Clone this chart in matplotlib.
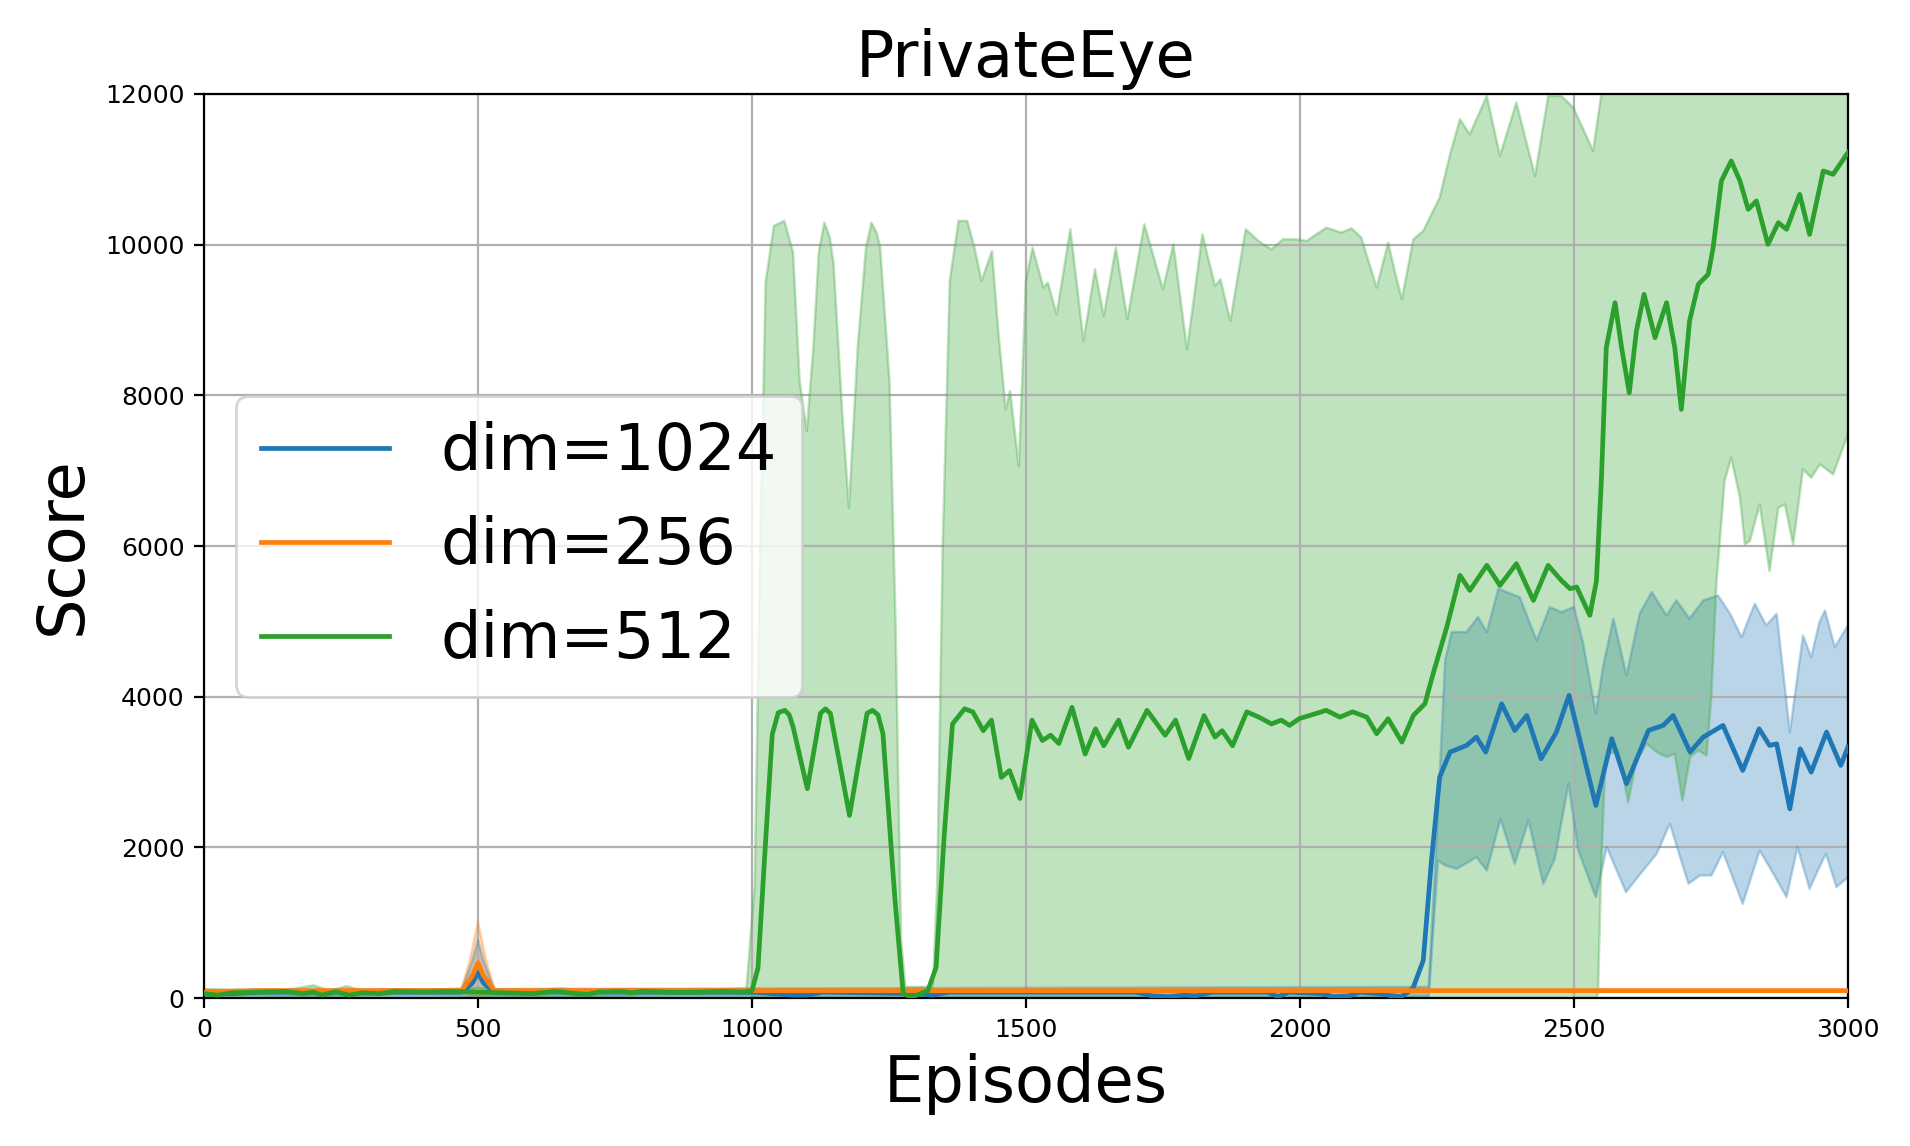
import numpy as np
import matplotlib.pyplot as plt

# dim=512 (green)
g_x = [0, 25, 50, 100, 150, 180, 200, 215, 240, 265, 290, 320, 350, 400, 450, 500, 550, 600, 640, 680,
       700, 720, 760, 780, 800, 850, 900, 950, 985, 1000, 1011, 1022, 1037, 1048, 1060, 1068, 1075, 1101,
       1125, 1134, 1143, 1178, 1210, 1220, 1230, 1239, 1261, 1276, 1291, 1321, 1336, 1351, 1366, 1388,
       1403, 1422, 1437, 1455, 1470, 1489,
       1511, 1530, 1545, 1560, 1584, 1608, 1627, 1642, 1669, 1687, 1721, 1754, 1773, 1797, 1825, 1845,
       1858, 1877, 1903, 1925, 1948, 1966, 1981, 1999, 2048, 2073, 2096, 2122, 2140, 2161, 2186, 2207,
       2228, 2243, 2268, 2292, 2310, 2341, 2365, 2395, 2426, 2453, 2477, 2493, 2505, 2529, 2541, 2550,
       2559, 2575, 2587, 2601, 2614, 2628, 2648, 2669, 2684, 2696, 2711, 2727, 2745, 2754, 2769, 2787,
       2803, 2818, 2833, 2854, 2873, 2888, 2912, 2930, 2955, 2973, 3000]
g_mean = [60, 40, 70, 80, 90, 60, 80, 40, 85, 40, 70, 60, 90, 80, 90, 80, 70, 60, 90, 60,
          50, 80, 90, 70, 90, 80, 80, 90, 80, 100, 400, 1740, 3500, 3790, 3820, 3760, 3600, 2780,
          3780, 3840, 3780, 2425, 3780, 3820, 3760, 3510, 1300, 60, 10, 100, 410, 2180, 3640, 3840,
          3800, 3550, 3690, 2930, 3020, 2650,
          3690, 3420, 3490, 3380, 3860, 3240, 3575, 3350, 3690, 3330, 3820, 3490, 3690, 3180, 3750, 3465,
          3550, 3350, 3800, 3730, 3640, 3690, 3620, 3710, 3820, 3730, 3800, 3730, 3510, 3708, 3398, 3752,
          3907, 4306, 4925, 5611, 5412, 5744, 5478, 5766, 5279, 5744, 5544, 5434, 5456, 5080, 5535, 6863,
          8633, 9230, 8633, 8035, 8854, 9341, 8766, 9230, 8633, 7814, 8987, 9474, 9607, 9960, 10845, 11111,
          10845, 10469, 10580, 10004, 10292, 10204, 10668, 10137, 10978, 10934, 11222]

g_up_x = [0, 50, 100, 150, 200, 230, 260, 290, 350, 400, 450, 500, 550, 600, 650, 700, 750, 800, 850,
          900, 950, 990, 1005, 1015, 1025, 1040, 1059, 1075, 1087, 1100, 1112, 1122, 1132, 1142, 1149,
          1165, 1177, 1193, 1208, 1218, 1228, 1234, 1251, 1262, 1272, 1280, 1330, 1338, 1348, 1361, 1377,
          1393, 1406, 1419, 1438,
          1450, 1463, 1471, 1487, 1500, 1512, 1532, 1540, 1556, 1581, 1605, 1626, 1642, 1664, 1685, 1716,
          1750, 1769, 1794, 1822, 1845, 1855, 1873, 1901, 1921, 1933, 1948, 1969, 1994, 2012, 2048, 2076,
          2094, 2112, 2140, 2161, 2173, 2186, 2207, 2225, 2255, 2274, 2292, 2310, 2341, 2365, 2395, 2429,
          2453, 2477, 2499, 2535, 2550, 2565, 3000]
g_up = [120, 110, 120, 110, 170, 100, 160, 100, 120, 110, 120, 140, 110, 110, 130, 100, 120, 120, 110,
        120, 120, 130, 1500, 6000, 9500, 10250, 10315, 9900, 8190, 7527, 8633, 9900, 10292, 10100, 9740,
        7748, 6509, 8633, 9950, 10292, 10150, 9960, 8190, 5000, 800, 150, 150, 1500, 5980, 9520, 10315,
        10315, 9960, 9520, 9915,
        8810, 7814, 8058, 7062, 9518, 9960, 9430, 9496, 9076, 10204, 8722, 9673, 9054, 9960, 9010, 10270,
        9408, 10004, 8611, 10137, 9452, 9540, 8987, 10204, 10071, 10004, 9938, 10071, 10071, 10049, 10226, 10160,
        10217, 10094, 9430, 10027, 9651, 9275, 10071, 10182, 10624, 11200, 11664, 11465, 11974, 11178, 11886, 10912,
        11974, 11974, 11819, 11244, 12000, 13500, 13500]

g_lo_x = [0, 100, 200, 300, 400, 500, 600, 700, 800, 900, 1000, 1010, 2540, 2544, 2550, 2557, 2566,
          2581, 2599, 2614, 2633, 2651, 2669, 2684, 2698, 2712, 2727, 2742, 2751, 2760, 2775, 2787, 2803,
          2812, 2821, 2839, 2857, 2873, 2885, 2900, 2918, 2933, 2949, 2973, 3000]
g_lo = [30, 40, 20, 40, 50, 30, 20, 10, 40, 40, 40, 0, 0, 58, 1827, 3066, 3243,
        3288, 2602, 3155, 3376, 3266, 3199, 3243, 2624, 3199, 3288, 3221, 4040, 5500, 6863, 7173, 6642,
        6022, 6067, 6553, 5668, 6509, 6553, 6022, 7018, 6907, 7084, 6952, 7483]

# dim=1024 (blue)
b_x = [0, 50, 100, 200, 300, 400, 470, 490, 500, 510, 530, 600, 700, 800, 900, 1000, 1075, 1100, 1130,
       1300, 1330, 1360, 1700, 1730, 1760, 1790, 1810, 1840, 1940, 1960, 1980, 2040, 2060, 2090, 2110,
       2146, 2164, 2185, 2201, 2207, 2225, 2240, 2255, 2274, 2304, 2322, 2339, 2368, 2392, 2414, 2440,
       2468, 2491, 2511, 2540, 2569, 2596, 2636, 2663, 2681, 2712, 2736, 2772, 2808, 2838, 2857, 2870,
       2894, 2913, 2933, 2961, 2987, 3000]
b_mean = [60, 60, 80, 80, 80, 80, 80, 200, 345, 200, 80, 80, 80, 80, 80, 80, 40, 40, 80,
          60, 40, 80, 80, 30, 20, 40, 30, 80, 80, 20, 80, 60, 20, 30, 80,
          58, 35, 20, 100, 146, 500, 1827, 2934, 3266, 3354, 3465, 3266, 3907, 3553, 3752, 3177,
          3531, 4018, 3420, 2558, 3443, 2845, 3553, 3620, 3752, 3266, 3465, 3620, 3022, 3575, 3354, 3376,
          2513, 3310, 3000, 3531, 3089, 3332]

b_up_x = [0, 470, 490, 500, 510, 530, 2235, 2252, 2265, 2277, 2304, 2325, 2341, 2362, 2377, 2401, 2414,
          2432, 2456, 2477, 2500, 2517, 2540, 2553, 2572, 2596, 2620, 2642, 2669, 2687, 2711, 2736, 2763,
          2785, 2806, 2830, 2851, 2870, 2894, 2918, 2933, 2948, 2958, 2976, 3000]
b_up = [100, 120, 500, 765, 500, 120, 150, 2500, 4482, 4859, 4859, 5058, 4859, 5434, 5390, 5323, 5080,
        4748, 5190, 5124, 5190, 4704, 3775, 4394, 5036, 4283, 5102, 5390, 5080, 5279, 5036, 5279, 5345,
        5102, 4792, 5235, 4947, 5102, 3531, 4814, 4527, 4991, 5146, 4660, 4947]

b_lo_x = [0, 470, 500, 530, 2235, 2252, 2265, 2286, 2307, 2322, 2341, 2366, 2392, 2417, 2444, 2465,
          2490, 2508, 2540, 2560, 2595, 2614, 2651, 2675, 2709, 2730, 2751, 2772, 2808, 2839, 2864, 2888,
          2908, 2930, 2948, 2960, 2979, 3000]
b_lo = [20, 20, 0, 20, 20, 1827, 1761, 1717, 1805, 1872, 1695, 2381, 1783, 2359, 1518, 1850,
        2845, 1960, 1341, 2004, 1407, 1584, 1916, 2314, 1518, 1628, 1628, 1938, 1252, 1960, 1650, 1341,
        2004, 1451, 1739, 1916, 1473, 1606]

# dim=256 (orange)
o_x = [0, 100, 470, 490, 500, 510, 530, 1000, 3000]
o_mean = [80, 100, 100, 300, 470, 300, 100, 100, 100]
o_up_x = [0, 470, 485, 500, 515, 530, 3000]
o_up = [110, 120, 500, 1010, 500, 120, 110]
o_lo_x = [0, 470, 500, 530, 3000]
o_lo = [70, 90, 0, 90, 95]

series = [
    ("dim=1024", "tab:blue", b_x, b_mean, b_up_x, b_up, b_lo_x, b_lo),
    ("dim=256", "tab:orange", o_x, o_mean, o_up_x, o_up, o_lo_x, o_lo),
    ("dim=512", "tab:green", g_x, g_mean, g_up_x, g_up, g_lo_x, g_lo),
]

fig, ax = plt.subplots(figsize=(9.55, 5.73), dpi=200)
fig.subplots_adjust(left=0.1068, right=0.9675, top=0.918, bottom=0.129)

for label, color, x, mean, ux, up, lx, lo in series:
    # band between upper and lower curve
    px = np.concatenate([ux, lx[::-1]])
    py = np.concatenate([up, lo[::-1]])
    ax.fill(px, py, color=color, alpha=0.3, linewidth=0)
    ax.plot(ux, up, color=color, alpha=0.3, linewidth=0.9, solid_joinstyle="round")
    ax.plot(lx, lo, color=color, alpha=0.3, linewidth=0.9, solid_joinstyle="round")

for label, color, x, mean, ux, up, lx, lo in series:
    ax.plot(x, mean, color=color, linewidth=1.7, label=label, zorder=3, solid_joinstyle="round")

ax.set_xlim(0, 3000)
ax.set_ylim(0, 12000)
ax.grid(True, color="#b0b0b0", linewidth=0.8)
ax.tick_params(labelsize=9)
ax.set_title("PrivateEye", fontsize=23)
ax.set_xlabel("Episodes", fontsize=23)
ax.set_ylabel("Score", fontsize=23)
ax.legend(loc="center left", fontsize=23)

fig.savefig("out.png", dpi=200)
